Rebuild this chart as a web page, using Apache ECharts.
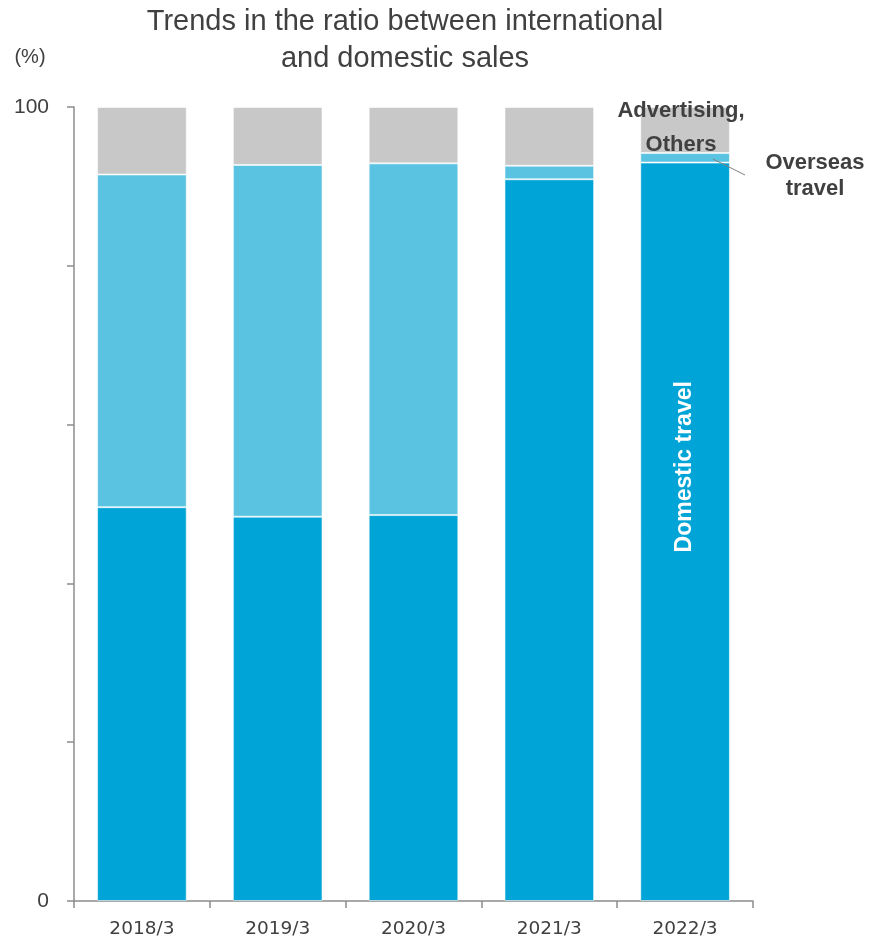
<!DOCTYPE html>
<html>
<head>
<meta charset="utf-8">
<script src="https://cdn.jsdelivr.net/npm/echarts@6/dist/echarts.min.js"></script>
<style>
html,body{margin:0;padding:0;background:#fff;}
#chart{width:872px;height:940px;}
</style>
</head>
<body>
<div id="chart"></div>
<script>
const categories = ['2018/3', '2019/3', '2020/3', '2021/3', '2022/3'];
const domesticTravel = [49.6, 48.4, 48.6, 90.9, 93.0];
const overseasTravel = [41.9, 44.3, 44.3, 1.7, 1.2];
const advertisingOthers = [8.5, 7.3, 7.1, 7.4, 5.8];
const yTickLabels = {0: '0', 100: '100'};

const chart = echarts.init(document.getElementById('chart'));
const border = {borderColor: 'rgba(255,255,255,0.55)', borderWidth: 1};
const lastIdx = categories.length - 1;
const annFont = 'bold 22px "Liberation Sans", Arial';

chart.setOption({
  animation: false,
  backgroundColor: '#fff',
  title: {
    text: 'Trends in the ratio between international\nand domestic sales',
    left: 400, top: -2, textAlign: 'center',
    textStyle: {fontFamily: 'Liberation Sans, Arial', fontSize: 29, fontWeight: 'normal', color: '#404040', lineHeight: 37}
  },
  grid: {left: 74, right: 119, top: 107, bottom: 39, containLabel: false},
  xAxis: {
    type: 'category', data: categories, boundaryGap: true,
    axisLine: {lineStyle: {color: '#8c8c8c', width: 1.5}},
    axisTick: {show: true, length: 7, lineStyle: {color: '#8c8c8c', width: 1.5}},
    axisLabel: {fontFamily: 'DejaVu Sans, Verdana', fontSize: 18.5, color: '#404040', margin: 19}
  },
  yAxis: {
    type: 'value', min: 0, max: 100, interval: 20,
    axisLine: {show: true, lineStyle: {color: '#8c8c8c', width: 1.5}},
    axisTick: {show: true, length: 7, lineStyle: {color: '#8c8c8c', width: 1.5}},
    splitLine: {show: false},
    axisLabel: {
      fontFamily: 'Liberation Sans, Arial', fontSize: 21, color: '#404040', margin: 25,
      formatter: v => (yTickLabels[v] !== undefined ? yTickLabels[v] : '')
    }
  },
  series: [
    {
      name: 'Domestic travel', type: 'bar', stack: 'total', data: domesticTravel,
      barCategoryGap: '34%',
      itemStyle: Object.assign({color: '#00A4D6'}, border)
    },
    {
      name: 'Overseas travel', type: 'bar', stack: 'total', data: overseasTravel,
      itemStyle: Object.assign({color: '#5BC3E2'}, border)
    },
    {
      name: 'Advertising, Others', type: 'bar', stack: 'total', data: advertisingOthers,
      itemStyle: Object.assign({color: '#C8C8C8'}, border)
    }
  ]
});

// label for the domestic travel segment of the last bar, placed through the axes
const mid = chart.convertToPixel({seriesIndex: 0}, [categories[lastIdx], domesticTravel[lastIdx] / 2]);

chart.setOption({
  graphic: [
    {type: 'text', z: 100, x: 30, y: 57, style: {text: '(%)', font: '20px "Liberation Sans", Arial', fill: '#404040', align: 'center', verticalAlign: 'middle'}},
    {type: 'text', z: 100, x: mid[0], y: mid[1] - 65, rotation: Math.PI / 2,
      style: {text: 'Domestic travel', font: 'bold 23px "Liberation Sans", Arial', fill: '#ffffff', align: 'center', verticalAlign: 'middle'}},
    {type: 'text', z: 100, x: 681, y: 111, style: {text: 'Advertising,', font: annFont, fill: '#404040', align: 'center', verticalAlign: 'middle'}},
    {type: 'text', z: 100, x: 681, y: 145, style: {text: 'Others', font: annFont, fill: '#404040', align: 'center', verticalAlign: 'middle'}},
    {type: 'text', z: 100, x: 815, y: 163, style: {text: 'Overseas', font: annFont, fill: '#404040', align: 'center', verticalAlign: 'middle'}},
    {type: 'text', z: 100, x: 815, y: 189, style: {text: 'travel', font: annFont, fill: '#404040', align: 'center', verticalAlign: 'middle'}},
    {type: 'line', z: 100, shape: {x1: 713, y1: 159, x2: 745, y2: 175}, style: {stroke: '#7f7f7f', lineWidth: 1}}
  ]
});
</script>
</body>
</html>
